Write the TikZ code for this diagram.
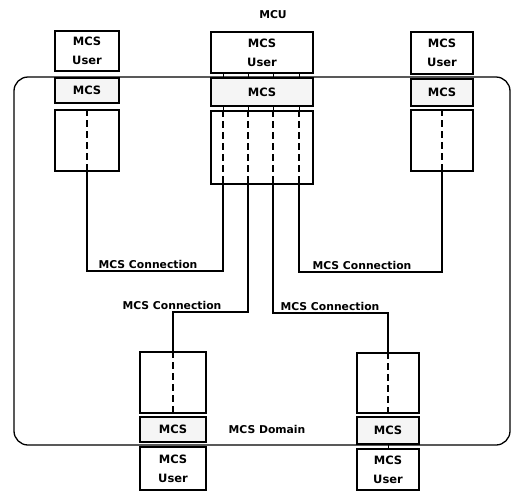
\documentclass[tikz,border=0pt]{standalone}
\usepackage{fontspec}
\setmainfont{DejaVu Sans}
\begin{document}
\begin{tikzpicture}[x=1pt,y=-1pt,
  txt/.style={font=\bfseries\fontsize{10.8}{12}\selectfont, inner sep=1pt},
  boxbase/.style={draw, line width=1.4pt, inner sep=0pt, align=center,
    font=\bfseries\fontsize{11.5}{19}\selectfont},
  userbox/.style={boxbase, fill=white},
  mcsbox/.style={boxbase, fill=gray!8},
  stackbox/.style={boxbase, fill=white},
  conn/.style={line width=1.4pt},
  dashline/.style={line width=1.4pt, dash pattern=on 7pt off 4pt},
  tick/.style={line width=1pt}]
\useasboundingbox (0,0) rectangle (512,491);
% domain
\draw[line width=1.3pt, rounded corners=14pt] (14,77) rectangle (510,445);
\node[txt] (mcu) at (273,15) {MCU};
\node[txt] (dom) at (267,429) {MCS Domain};
% left column
\node[userbox, minimum width=64pt, minimum height=40pt] (lu) at (87,51) {MCS\\User};
\node[mcsbox, minimum width=64pt, minimum height=25pt] (lm) at (87,90.5) {MCS};
\node[stackbox, minimum width=64pt, minimum height=61pt] (ls) at (87,140.5) {};
% center column
\node[userbox, minimum width=102pt, minimum height=41pt] (cu) at (262,52.5) {MCS\\User};
\node[mcsbox, minimum width=102pt, minimum height=28pt] (cm) at (262,92) {MCS};
\node[stackbox, minimum width=102pt, minimum height=73pt] (cs) at (262,147.5) {};
% right column
\node[userbox, minimum width=62pt, minimum height=42pt] (ru) at (442,53) {MCS\\User};
\node[mcsbox, minimum width=62pt, minimum height=27pt] (rm) at (442,92.5) {MCS};
\node[stackbox, minimum width=62pt, minimum height=61pt] (rs) at (442,140.5) {};
% bottom left
\node[stackbox, minimum width=66pt, minimum height=61pt] (bls) at (173,382.5) {};
\node[mcsbox, minimum width=66pt, minimum height=25pt] (blm) at (173,429.5) {MCS};
\node[userbox, minimum width=66pt, minimum height=43pt] (blu) at (173,468.5) {MCS\\User};
% bottom right
\node[stackbox, minimum width=62pt, minimum height=60pt] (brs) at (388,383) {};
\node[mcsbox, minimum width=62pt, minimum height=27pt] (brm) at (388,430.5) {MCS};
\node[userbox, minimum width=62pt, minimum height=41pt] (bru) at (388,469.5) {MCS\\User};
% exit points of center stack
\coordinate (p1) at (223,184);
\coordinate (p2) at (248,184);
\coordinate (p3) at (273,184);
\coordinate (p4) at (299,184);
% dashed lines in stacks
\foreach \p in {p1,p2,p3,p4}{
  \draw[dashline] (cs.north -| \p) -- (\p);
  \draw[tick] (cu.south -| \p) -- (cm.north -| \p);
  \draw[tick] (cm.south -| \p) -- (cs.north -| \p);
}
\draw[dashline] (ls.north) -- (ls.south);
\draw[dashline] (rs.north) -- (rs.south);
\draw[dashline] (bls.north) -- (bls.south);
\draw[dashline] (brs.north) -- (brs.south);
\draw[tick] (brm.south) -- (bru.north);
% connections
\coordinate (k1) at (223,271);
\coordinate (k4) at (299,272);
\coordinate (k2) at (248,312);
\coordinate (k3) at (273,313);
\draw[conn] (ls.south) |- (k1) -- (p1);
\draw[conn] (rs.south) |- (k4) -- (p4);
\draw[conn] (p2) -- (k2) -| (bls.north);
\draw[conn] (p3) -- (k3) -| (brs.north);
\node[txt, anchor=south] (l1) at (148,270) {MCS Connection};
\node[txt, anchor=south] (l4) at (362,271) {MCS Connection};
\node[txt, anchor=south] (l2) at (172,311) {MCS Connection};
\node[txt, anchor=south] (l3) at (330,312) {MCS Connection};
\end{tikzpicture}
\end{document}
